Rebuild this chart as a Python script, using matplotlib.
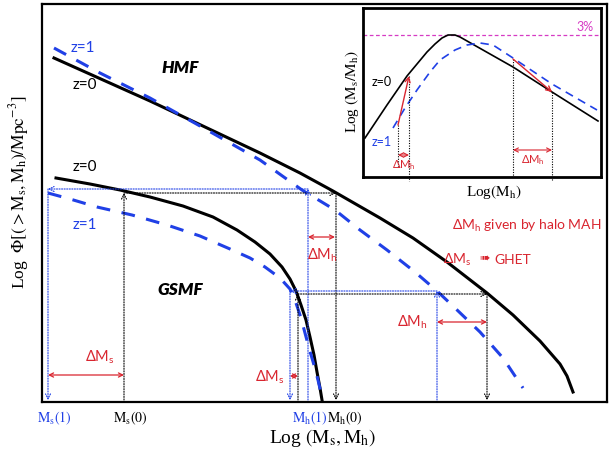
import matplotlib.pyplot as plt

plt.rcParams['mathtext.fontset'] = 'custom'
plt.rcParams['mathtext.rm'] = 'Lato'
plt.rcParams['mathtext.it'] = 'Lato:italic'
plt.rcParams['mathtext.bf'] = 'Lato:bold'

BLUE = '#2040e6'
RED = '#d9252f'
MAG = '#d63bc4'
SANS = ['Lato', 'DejaVu Sans']
SERIF = 'Liberation Serif'

# ---- main panel, schematic units (log mass to the right, log Phi downward)
hmf_z0_x = [54, 150, 260, 300, 333, 380, 413, 447, 487, 513, 540, 560, 567, 573]
hmf_z0_y = [58, 101, 153, 173, 191, 218, 238, 262, 293, 315, 341, 364, 376, 392]
hmf_z1_x = [54, 100, 150, 200, 260, 302, 335, 360, 387, 415, 437, 455, 480, 503, 523]
hmf_z1_y = [48, 73, 98, 126, 160, 190, 210, 230, 250, 272, 291, 308, 332, 358, 388]
gsmf_z0_x = [56, 90, 120, 150, 183, 213, 237, 255, 270, 282, 290, 296, 301, 306, 310,
             314, 317, 320, 322]
gsmf_z0_y = [178, 184, 190, 197, 206, 217, 230, 242, 254, 267, 279, 291, 305, 320, 337,
             355, 372, 388, 400]
gsmf_z1_x = [48, 70, 97, 132, 167, 200, 230, 250, 265, 280, 290, 296, 301, 305, 309,
             314, 318, 321]
gsmf_z1_y = [193, 199, 207, 215, 225, 236, 249, 258, 267, 278, 289, 303, 318, 333, 348,
             365, 380, 393]

# abundance matching steps (two examples each)
ms0 = [124, 298]
ms1 = [48, 290]
mh0 = [336, 487]
mh1 = [308, 437]
lev0 = [193, 294]
lev1 = [189, 291]
base = 400

# red Delta arrows: x0, x1, y, label x, label y, label
dm_x0 = [48, 290, 308, 437]
dm_x1 = [124, 298, 335, 487]
dm_y = [375, 376, 237, 322]
dm_lx = [100, 270, 322, 412]
dm_ly = [357, 377, 255, 322]
dm_txt = ['ΔM$_\\mathrm{s}$', 'ΔM$_\\mathrm{s}$', 'ΔM$_\\mathrm{h}$', 'ΔM$_\\mathrm{h}$']

# ---- inset: stellar-to-halo mass ratio
ins_z0_x = [365, 387, 407, 427, 435, 442, 448, 455, 460, 513, 552, 598]
ins_z0_y = [138, 105, 76, 52, 44, 38, 35, 35, 37, 67, 92, 121]
ins_z1_x = [393, 405, 417, 430, 440, 455, 467, 480, 493, 513, 552, 597]
ins_z1_y = [128, 108, 90, 72, 60, 50, 45, 43, 45, 58, 84, 110]
peak_level = 35
ins_from_x = [398, 513]
ins_from_y = [125, 59]
ins_to_x = [409, 552]
ins_to_y = [76, 92]
ins_dm_y = [155, 150]

fig = plt.figure(figsize=(6.1, 4.5), dpi=100)
ax = fig.add_axes([42 / 610, 48 / 450, 565 / 610, 398 / 450])
ax.set_xlim(42, 607)
ax.set_ylim(402, 4)
ax.set_xticks([])
ax.set_yticks([])
for s in ax.spines.values():
    s.set_linewidth(1.6)

ax.plot(hmf_z0_x, hmf_z0_y, color='black', lw=2.2)
ax.plot(hmf_z1_x, hmf_z1_y, color=BLUE, lw=2.2, dashes=(4.5, 3.8))
ax.plot(gsmf_z0_x, gsmf_z0_y, color='black', lw=2.2)
ax.plot(gsmf_z1_x, gsmf_z1_y, color=BLUE, lw=2.2, dashes=(4.5, 3.8))


def guide(a, x0, y0, x1, y1, color):
    a.annotate('', xy=(x1, y1), xytext=(x0, y0), annotation_clip=False,
               arrowprops=dict(arrowstyle='->,head_length=0.35,head_width=0.18',
                               color=color, lw=0.8, linestyle=(0, (1, 1.3)),
                               shrinkA=0, shrinkB=0))


def delta(a, x0, x1, y, lw=0.9):
    a.annotate('', xy=(x1, y), xytext=(x0, y), annotation_clip=False,
               arrowprops=dict(arrowstyle='<->,head_length=0.3,head_width=0.15',
                               color=RED, lw=lw, shrinkA=0, shrinkB=0))


for i in range(2):
    # z=0: stellar mass -> GSMF -> HMF -> halo mass
    guide(ax, ms0[i], base, ms0[i], lev0[i], 'black')
    guide(ax, ms0[i], lev0[i], mh0[i], lev0[i], 'black')
    guide(ax, mh0[i], lev0[i], mh0[i], base, 'black')
    # z=1: halo mass -> HMF -> GSMF -> stellar mass
    guide(ax, mh1[i], base, mh1[i], lev1[i], BLUE)
    guide(ax, mh1[i], lev1[i], ms1[i], lev1[i], BLUE)
    guide(ax, ms1[i], lev1[i], ms1[i], base, BLUE)

for x0, x1, y, lx, ly, t in zip(dm_x0, dm_x1, dm_y, dm_lx, dm_ly, dm_txt):
    delta(ax, x0, x1, y)
    ax.text(lx, ly, t, color=RED, fontsize=10.5, family=SANS,
            math_fontfamily='custom', ha='center', va='center')

ax.text(83, 48, 'z=1', color=BLUE, fontsize=11, family=SANS, ha='center', va='center')
ax.text(85, 85, 'z=0', color='black', fontsize=11, family=SANS, ha='center', va='center')
ax.text(180, 68, 'HMF', fontsize=12.5, family=SANS, weight='heavy', style='italic',
        ha='center', va='center')
ax.text(85, 167, 'z=0', color='black', fontsize=11, family=SANS, ha='center', va='center')
ax.text(85, 225, 'z=1', color=BLUE, fontsize=11, family=SANS, ha='center', va='center')
ax.text(180, 290, 'GSMF', fontsize=12.5, family=SANS, weight='heavy', style='italic',
        ha='center', va='center')
ax.text(527, 226, 'ΔM$_\\mathrm{h}$ given by halo MAH', color=RED, fontsize=10,
        family=SANS, math_fontfamily='custom', ha='center', va='center')
ax.text(471, 260, 'ΔM$_\\mathrm{s}$', color=RED, fontsize=10,
        family=SANS, math_fontfamily='custom', ha='right', va='center')
ax.text(484, 259, '➠', color=RED, fontsize=9, family='DejaVu Sans',
        ha='center', va='center')
ax.text(494, 260, 'GHET', color=RED, fontsize=10, family=SANS, ha='left', va='center')

# axis "tick" labels and titles
tick_x = [54, 130, 310, 345]
tick_txt = [r'$\mathrm{M_s(1)}$', r'$\mathrm{M_s(0)}$', r'$\mathrm{M_h(1)}$', r'$\mathrm{M_h(0)}$']
tick_col = [BLUE, 'black', BLUE, 'black']
for x, t, c in zip(tick_x, tick_txt, tick_col):
    ax.text(x, 418, t, color=c, fontsize=10, math_fontfamily='stix',
            ha='center', va='center', clip_on=False)
ax.text(323, 438, r'Log $\mathrm{(M_s,M_h)}$', fontsize=14, family=SERIF,
        math_fontfamily='stix', ha='center', va='center', clip_on=False)
ax.text(19, 192, r'Log  $\Phi[(>\mathrm{M_s,M_h})/\mathrm{Mpc^{-3}}]$', fontsize=12.5,
        family=SERIF, math_fontfamily='stix', rotation=90, ha='center', va='center',
        clip_on=False)
ax.text(352, 92, r'Log $\mathrm{(M_s/M_h)}$', fontsize=11, family=SERIF,
        math_fontfamily='stix', rotation=90, ha='center', va='center')
ax.text(494, 192, r'Log$\mathrm{(M_h)}$', fontsize=11, family=SERIF,
        math_fontfamily='stix', ha='center', va='center')

# ---- inset
ins = fig.add_axes([363 / 610, (450 - 177) / 450, 238 / 610, 169 / 450])
ins.set_xlim(363, 601)
ins.set_ylim(177, 8)
ins.set_xticks([])
ins.set_yticks([])
for s in ins.spines.values():
    s.set_linewidth(2)
ins.axhline(peak_level, color=MAG, lw=0.9, dashes=(3, 2))
ins.text(585, 27, '3%', color=MAG, fontsize=9, family=SANS, ha='center', va='center')
ins.plot(ins_z0_x, ins_z0_y, color='black', lw=1.2)
ins.plot(ins_z1_x, ins_z1_y, color=BLUE, lw=1.2, dashes=(5, 3.5))
for x0, y0, x1, y1, yd in zip(ins_from_x, ins_from_y, ins_to_x, ins_to_y, ins_dm_y):
    ins.plot([x0, x0], [y0, 168 if x0 < 450 else 177], color='black', lw=0.8,
             linestyle=(0, (1, 1.3)), clip_on=False)
    ins.plot([x1, x1], [y1, 181], color='black', lw=0.8, linestyle=(0, (1, 1.3)),
             clip_on=False)
    ins.annotate('', xy=(x1, y1), xytext=(x0, y0),
                 arrowprops=dict(arrowstyle='->,head_length=0.35,head_width=0.18',
                                 color=RED, lw=1.0, shrinkA=0, shrinkB=0))
    delta(ins, x0, x1, yd, lw=0.8)
    ins.text((x0 + x1) / 2, yd + 10, 'ΔM$_\\mathrm{h}$', color=RED, fontsize=8,
             family=SANS, math_fontfamily='custom', ha='center', va='center')
ins.text(382, 82, 'z=0', color='black', fontsize=9, family=SANS, ha='center', va='center')
ins.text(382, 142, 'z=1', color=BLUE, fontsize=9, family=SANS, ha='center', va='center')

fig.savefig('out.png', dpi=100)
